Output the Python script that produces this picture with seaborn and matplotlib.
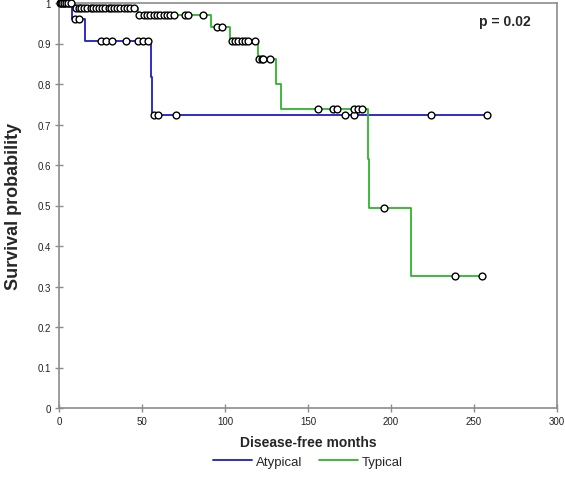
import numpy as np
import pandas as pd
import matplotlib
matplotlib.use('Agg')
import matplotlib.pyplot as plt
import seaborn as sns

# Kaplan-Meier step data (time of step, survival after step)
typical_times = [0, 9.5, 47.5, 91.5, 103, 120, 131, 134, 186, 187, 212, 255]
typical_surv = [1.0, 0.988, 0.970, 0.940, 0.906, 0.862, 0.800, 0.738, 0.615, 0.494, 0.327, 0.327]
typical_censored = [1, 2, 3, 4, 5.5, 7,
                    10.5, 12, 13.5, 15, 17, 19, 20.5, 22, 24, 26, 28, 30, 31.5, 33, 35, 37, 39, 41, 43, 45,
                    48, 51, 53, 55, 57, 59, 61, 63, 65, 67, 69, 76, 78, 87,
                    95, 98,
                    104, 106, 108, 110, 112, 114, 118,
                    120.5, 122, 123, 127,
                    156, 165, 167.5, 178, 180, 182.5,
                    196,
                    238.5, 255]

atypical_times = [0, 8, 15.7, 55.4, 56.3, 258]
atypical_surv = [1.0, 0.960, 0.906, 0.817, 0.724, 0.724]
atypical_censored = [0.5, 3, 6,
                     9.5, 12,
                     25, 28.5, 32, 40.5, 47.5, 50.5, 53.5,
                     57, 59.5, 70.5, 172, 178, 224, 258]

x_ticks = [0, 50, 100, 150, 200, 250, 300]
y_ticks = [0, 0.1, 0.2, 0.3, 0.4, 0.5, 0.6, 0.7, 0.8, 0.9, 1]
y_tick_labels = ['0', '0.1', '0.2', '0.3', '0.4', '0.5', '0.6', '0.7', '0.8', '0.9', '1']

groups = {
    'Atypical': (atypical_times, atypical_surv, atypical_censored, '#1c1cc8'),
    'Typical': (typical_times, typical_surv, typical_censored, '#2db52d'),
}

sns.set_style('white')
plt.rcParams['font.family'] = ['Liberation Sans', 'DejaVu Sans']

fig = plt.figure(figsize=(5.65, 4.81), dpi=100)
ax = fig.add_axes([59 / 565, 72 / 481, 498 / 565, 405 / 481])

grey = '#8c8c8c'

for name, (times, surv, cens, color) in groups.items():
    df = pd.DataFrame({'time': times, 'surv': surv})
    sns.lineplot(data=df, x='time', y='surv', drawstyle='steps-post', color=color,
                 linewidth=1.3, label=name, ax=ax, zorder=2)

for name, (times, surv, cens, color) in groups.items():
    # survival value at each censoring time from the step function
    idx = np.searchsorted(times, cens, side='right') - 1
    cens_df = pd.DataFrame({'time': cens, 'surv': np.array(surv)[idx]})
    sns.scatterplot(data=cens_df, x='time', y='surv', s=24, facecolor='white',
                    edgecolor='black', linewidth=1.0, ax=ax, zorder=3, clip_on=False,
                    legend=False)

ax.set_xlim(0, 300)
ax.set_ylim(0, 1)
ax.set_xticks(x_ticks)
ax.set_yticks(y_ticks)
ax.set_yticklabels(y_tick_labels)
ax.tick_params(axis='both', direction='inout', length=6, width=1, color=grey,
               labelsize=7, labelcolor='#222222', pad=3)
ax.tick_params(axis='both', bottom=True, left=True)

for side in ['left', 'bottom', 'top', 'right']:
    ax.spines[side].set_visible(True)
    ax.spines[side].set_color(grey)
    ax.spines[side].set_linewidth(1.2)

ax.set_xlabel('Disease-free months', fontsize=10, fontweight='bold', labelpad=6)
ax.set_ylabel('Survival probability', fontsize=13, fontweight='bold', labelpad=11)

ax.text(0.895, 0.955, 'p = 0.02', transform=ax.transAxes, fontsize=10,
        fontweight='bold', ha='center', va='center')

ax.legend(loc='center', bbox_to_anchor=(0.5, -0.133), ncol=2, frameon=False,
          fontsize=9.5, handlelength=3, handletextpad=0.3, columnspacing=1.2)

plt.savefig('out.png', dpi=100)
plt.close()
